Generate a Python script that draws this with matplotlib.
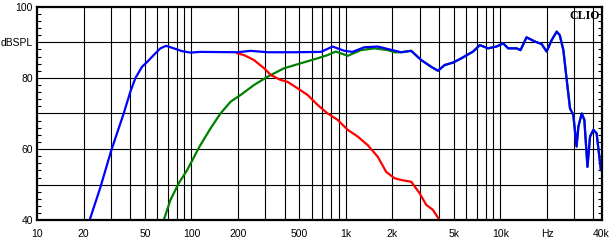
import numpy as np
import matplotlib
matplotlib.use("Agg")
import matplotlib.pyplot as plt

# ---- data (Hz, dBSPL) ----
blue_f = [21.9, 25.7, 30.2, 36.4, 40.2, 43.3, 47.8, 51.7, 58.4, 62.9, 68.5, 76.8, 87, 98.5,
          114, 198, 242, 310, 461, 688, 819, 975, 1100, 1315, 1607, 1866, 2277,
          2643, 3069, 3565, 3938, 4349, 4929, 5584, 6650, 7343, 8320, 9420, 10410, 11210,
          12700, 13480, 14750, 16720, 18460, 19890, 21430, 23120, 24190, 25530, 26840,
          28190, 29600, 31080, 31930, 33560, 34900, 36550, 38000, 39920, 41900, 44640]
blue_db = [40, 49.2, 59.5, 70.0, 76.1, 79.9, 83.1, 84.5, 86.9, 88.3, 89.0, 88.3, 87.5, 87.1,
           87.3, 87.2, 87.6, 87.2, 87.2, 87.3, 88.8, 87.6, 87.3, 88.6, 88.8, 88.1, 87.2,
           87.6, 85.0, 83.1, 82.0, 83.6, 84.3, 85.5, 87.4, 89.2, 88.3, 88.8, 89.7, 88.3,
           88.3, 87.8, 91.4, 90.2, 89.5, 87.4, 90.6, 93.0, 92.0, 87.8, 79.4,
           71.4, 69.6, 60.7, 66.3, 70.0, 68.2, 55.0, 63.5, 65.4, 64.4, 54.1]

green_f = [66.1, 73.1, 82.7, 93.8, 112.7, 132.8, 154, 179, 208, 254, 310, 397, 510, 655,
           760, 861, 1026, 1250, 1527, 1866, 2060]
green_db = [40, 45.7, 50.4, 54.1, 60.7, 65.8, 70.0, 73.3, 75.2, 78.0, 80.3, 82.7, 84.1, 85.5,
            86.4, 87.4, 86.2, 87.8, 88.3, 87.8, 87.2]

red_f = [198, 218.7, 254, 295, 326, 378, 418, 485, 564, 655, 760, 883, 1026, 1191, 1383,
         1607, 1819, 2060, 2277, 2643, 2995, 3306, 3654, 4036]
red_db = [86.9, 86.4, 85.0, 82.7, 80.8, 79.4, 78.9, 77.1, 75.2, 72.4, 70.0, 68.2, 65.4, 63.5,
          61.1, 57.8, 53.6, 51.8, 51.3, 50.8, 47.6, 44.3, 42.9, 40]

x_ticks = [10, 20, 50, 100, 200, 500, 1000, 2000, 5000, 10000, 20000, 45000]
x_labels = ["10", "20", "50", "100", "200", "500", "1k", "2k", "5k", "10k", "Hz", "40k"]
y_ticks = [40, 50, 60, 70, 80, 90, 100]
y_labels = ["40", "", "60", "", "80", "dBSPL", "100"]

# green runs under the blue trace above ~2 kHz
hi = [i for i, f in enumerate(blue_f) if f > 2100]
green_f = green_f + [blue_f[i] for i in hi]
green_db = green_db + [blue_db[i] for i in hi]

plt.rcParams["font.family"] = ["Liberation Sans", "DejaVu Sans"]

W, H = 609, 243
fig = plt.figure(figsize=(W / 100, H / 100), dpi=100)
ax = fig.add_axes([37 / W, (H - 220.2) / H, (601.7 - 37) / W, (220.2 - 6.7) / H])

ax.set_xscale("log")
ax.set_xlim(10, 45200)
ax.set_ylim(40, 100)

# grid
grid_f = [m * 10 ** d for d in range(1, 5) for m in range(1, 10) if 10 < m * 10 ** d <= 40000]
for f in grid_f:
    ax.axvline(f, color="black", lw=0.8, zorder=1)
for v in y_ticks[1:-1]:
    ax.axhline(v, color="black", lw=0.8, zorder=1)

ax.plot(green_f, green_db, color="#008000", lw=1.6, zorder=3)
ax.plot(red_f, red_db, color="#ff0000", lw=1.6, zorder=4)
ax.plot(blue_f, blue_db, color="#0000ff", lw=1.6, zorder=5)

ax.xaxis.set_minor_locator(matplotlib.ticker.NullLocator())
ax.set_xticks(x_ticks)
ax.set_xticklabels(x_labels)
ax.set_yticks(y_ticks)
ax.set_yticklabels(y_labels)
ax.set_yticks(np.arange(40, 101, 2), minor=True)
ax.tick_params(axis="x", which="major", length=0, pad=6, labelsize=7.5, colors="black")
ax.tick_params(axis="y", which="major", length=0, pad=3, labelsize=7.5)
ax.tick_params(axis="y", which="minor", left=True, right=True, direction="in", length=3, width=0.8)

for s in ax.spines.values():
    s.set_linewidth(1.6)
    s.set_zorder(6)

ax.text(0.996, 0.985, "CLIO", transform=ax.transAxes, ha="right", va="top",
        fontsize=8.6, fontweight="bold", family=["Liberation Serif", "DejaVu Serif"], zorder=7)

fig.savefig("out.png", dpi=100)
